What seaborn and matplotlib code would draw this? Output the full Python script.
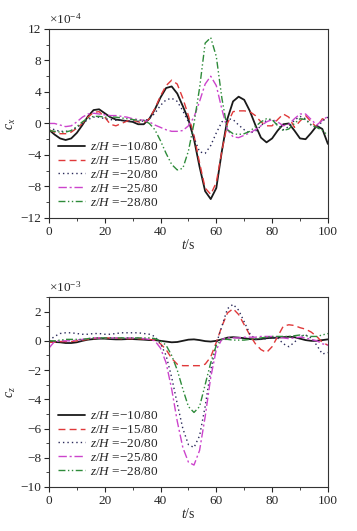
import numpy as np
import pandas as pd
import matplotlib
matplotlib.use('Agg')
import matplotlib.pyplot as plt
from matplotlib.ticker import MultipleLocator
import seaborn as sns

sns.set_style('ticks')
plt.rcParams['font.family'] = ['Liberation Serif', 'DejaVu Serif']
plt.rcParams['mathtext.fontset'] = 'custom'
plt.rcParams['mathtext.rm'] = 'Liberation Serif'
plt.rcParams['mathtext.it'] = 'Liberation Serif:italic'
plt.rcParams['axes.unicode_minus'] = True

# time axis (s)
t = np.arange(0, 101, 2)

labels = ['−10/80', '−15/80', '−20/80', '−25/80', '−28/80']

# c_x, unit 1e-4
cx_10 = [-0.8, -1.4, -1.9, -2.1, -1.9, -1.2, -0.2, 0.9, 1.7, 1.8, 1.3, 0.8, 0.5, 0.4, 0.3, 0.2, -0.1,
         -0.1, 0.6, 1.8, 3.3, 4.5, 4.7, 3.8, 2.2, 0.5, -2.0, -5.5, -8.6, -9.6, -8.2, -3.5, 0.6, 2.8,
         3.4, 3.0, 1.6, -0.2, -1.8, -2.4, -1.9, -0.9, -0.1, 0.0, -0.9, -1.9, -2.0, -1.2, -0.3, -0.7, -2.6]
cx_15 = [-0.8, -1.1, -1.3, -1.3, -1.1, -0.6, 0.0, 0.8, 1.4, 1.5, 0.8, -0.1, -0.3, 0.0, 0.3, 0.4, 0.2,
         0.1, 0.6, 1.9, 3.5, 4.8, 5.5, 5.0, 3.2, 1.0, -1.5, -5.0, -8.2, -9.0, -7.5, -3.5, 0.0, 1.5,
         1.6, 1.6, 1.5, 1.0, 0.2, -0.3, -0.3, 0.5, 1.2, 0.8, -0.5, 0.3, 1.0, 0.2, -0.5, 0.6, 0.3]
cx_20 = [-0.5, -0.8, -1.0, -1.0, -0.9, -0.5, 0.0, 0.5, 0.8, 0.8, 0.6, 0.5, 0.4, 0.4, 0.3, 0.3, 0.3,
         0.3, 0.6, 1.3, 2.3, 3.0, 3.2, 2.8, 1.6, 0.2, -1.8, -3.6, -3.8, -2.8, -1.2, 0.2, 0.6, 0.5,
         -0.2, -0.8, -1.2, -1.0, -0.3, 0.4, 0.5, -0.2, -0.8, -0.4, 0.4, 0.9, 0.6, -0.2, -0.6, 0.3, 0.8]
cx_25 = [0.0, 0.0, -0.2, -0.4, -0.3, 0.2, 0.8, 1.2, 1.3, 1.2, 1.1, 1.0, 1.0, 0.9, 0.8, 0.6, 0.5,
         0.4, 0.2, -0.2, -0.5, -0.8, -1.0, -1.0, -0.9, -0.3, 0.8, 2.8, 5.0, 6.0, 4.8, 1.8, -0.8, -1.7,
         -1.8, -1.5, -1.2, -0.8, -0.3, 0.2, 0.5, 0.2, -0.3, -0.1, 0.6, 1.2, 1.2, 0.5, -0.2, 0.4, 0.9]
cx_28 = [-0.9, -1.0, -1.1, -1.1, -0.9, -0.4, 0.2, 0.7, 0.9, 0.9, 0.8, 0.8, 0.8, 0.7, 0.6, 0.5, 0.4,
         0.4, 0.0, -0.8, -2.2, -3.8, -5.2, -5.9, -5.7, -3.5, 0.0, 4.5, 10.2, 10.9, 8.5, 3.2, -0.8, -1.3,
         -1.4, -1.3, -1.0, -0.4, 0.2, 0.6, 0.5, -0.3, -0.9, -0.7, 0.0, 0.6, 0.5, -0.2, -0.5, -0.9, -1.5]

# c_z, unit 1e-3
cz_10 = [-0.05, -0.08, -0.1, -0.15, -0.15, -0.1, 0.0, 0.08, 0.12, 0.15, 0.15, 0.12, 0.1, 0.1, 0.12,
         0.12, 0.1, 0.08, 0.05, 0.05, 0.0, -0.05, -0.1, -0.08, 0.0, 0.08, 0.1, 0.05, -0.02, -0.05, 0.0,
         0.1, 0.22, 0.25, 0.22, 0.18, 0.12, 0.1, 0.12, 0.18, 0.2, 0.22, 0.25, 0.28, 0.25, 0.15, 0.05,
         0.0, 0.0, 0.05, 0.1]
cz_15 = [-0.1, -0.1, -0.05, -0.05, -0.05, 0.0, 0.05, 0.1, 0.15, 0.2, 0.2, 0.2, 0.18, 0.15, 0.15,
         0.15, 0.15, 0.12, 0.1, 0.05, -0.2, -0.6, -1.2, -1.6, -1.7, -1.7, -1.7, -1.7, -1.6, -1.1, -0.1,
         1.0, 1.9, 2.2, 1.8, 1.1, 0.4, -0.2, -0.6, -0.8, -0.4, 0.3, 1.0, 1.1, 1.05, 0.9, 0.8, 0.6,
         0.3, -0.1, -0.3]
cz_20 = [0.0, 0.3, 0.5, 0.55, 0.55, 0.5, 0.45, 0.45, 0.5, 0.5, 0.45, 0.45, 0.5, 0.55, 0.55, 0.55,
         0.55, 0.5, 0.45, 0.3, -0.2, -1.0, -2.5, -4.3, -6.0, -7.1, -7.3, -6.5, -4.5, -2.0, -0.2, 1.0,
         2.2, 2.5, 2.1, 1.3, 0.5, 0.1, 0.1, 0.15, 0.2, 0.2, -0.2, -0.4, -0.1, 0.3, 0.4, 0.2, -0.3,
         -0.9, -0.8]
cz_25 = [-0.5, -0.05, 0.0, 0.0, 0.0, 0.05, 0.1, 0.15, 0.2, 0.2, 0.2, 0.2, 0.2, 0.2, 0.2, 0.2, 0.2,
         0.15, 0.1, 0.0, -0.5, -1.5, -3.3, -5.5, -7.3, -8.3, -8.5, -7.5, -5.2, -2.5, -0.6, 0.1, 0.2,
         0.2, 0.2, 0.25, 0.25, 0.25, 0.3, 0.3, 0.3, 0.25, 0.2, 0.15, 0.2, 0.25, 0.2, 0.1, 0.0, -0.2,
         -0.3]
cz_28 = [0.0, 0.0, 0.05, 0.1, 0.1, 0.1, 0.1, 0.15, 0.2, 0.2, 0.2, 0.2, 0.2, 0.2, 0.2, 0.2, 0.2,
         0.2, 0.2, 0.15, 0.0, -0.3, -1.0, -2.0, -3.3, -4.5, -4.9, -4.5, -3.0, -1.5, -0.3, 0.1, 0.1,
         0.05, 0.05, 0.05, 0.1, 0.15, 0.2, 0.25, 0.3, 0.3, 0.3, 0.3, 0.35, 0.4, 0.35, 0.3, 0.3, 0.4,
         0.5]

colors = ['#1a1a1a', '#e0393a', '#2a2a5a', '#cc44cc', '#2e8b3a']
styles = ['-', (0, (5, 3)), (0, (1, 2.2)), (0, (6, 2, 1.5, 2)), (0, (5, 1.8, 1, 1.8, 1, 1.8))]
widths = [1.3, 1.0, 1.0, 1.0, 1.0]

fig = plt.figure(figsize=(3.57, 5.31), dpi=100)
ax1 = fig.add_axes([0.137, 0.5895, 0.7815, 0.356])
ax2 = fig.add_axes([0.137, 0.0829, 0.7815, 0.3578])


def draw(ax, series, ylim, major, minor, ylabel, power):
    for i, y in enumerate(series):
        sns.lineplot(x=t, y=y, ax=ax, color=colors[i], linestyle=styles[i], linewidth=widths[i],
                     label=r'$z/H$ =' + labels[i])
    ax.set_xlim(0, 100)
    ax.set_ylim(*ylim)
    ax.xaxis.set_major_locator(MultipleLocator(20))
    ax.xaxis.set_minor_locator(MultipleLocator(10))
    ax.yaxis.set_major_locator(MultipleLocator(major))
    ax.yaxis.set_minor_locator(MultipleLocator(minor))
    ax.tick_params(which='major', direction='out', length=3.5, width=0.8, labelsize=9.5, pad=2)
    ax.tick_params(which='minor', direction='out', length=2, width=0.6)
    for s in ax.spines.values():
        s.set_linewidth(0.8)
        s.set_color('#333333')
    ax.set_xlabel(r'$t$/s', fontsize=10, labelpad=0)
    ax.set_ylabel(ylabel, fontsize=10, labelpad=2)
    ax.text(0.0, 1.01, r'$\times$10$^{' + power + '}$', transform=ax.transAxes,
            fontsize=9.5, ha='left', va='bottom')
    ax.legend(loc='lower left', frameon=False, fontsize=9.5, handlelength=2.05,
              handletextpad=0.4, labelspacing=0.12, borderaxespad=0.3, bbox_to_anchor=(0.0, 0.0))


draw(ax1, [cx_10, cx_15, cx_20, cx_25, cx_28], (-12, 12), 4, 2, r'$c_x$', '−4')
draw(ax2, [cz_10, cz_15, cz_20, cz_25, cz_28], (-10, 3), 2, 1, r'$c_z$', '−3')

fig.savefig('out.png', dpi=100)
